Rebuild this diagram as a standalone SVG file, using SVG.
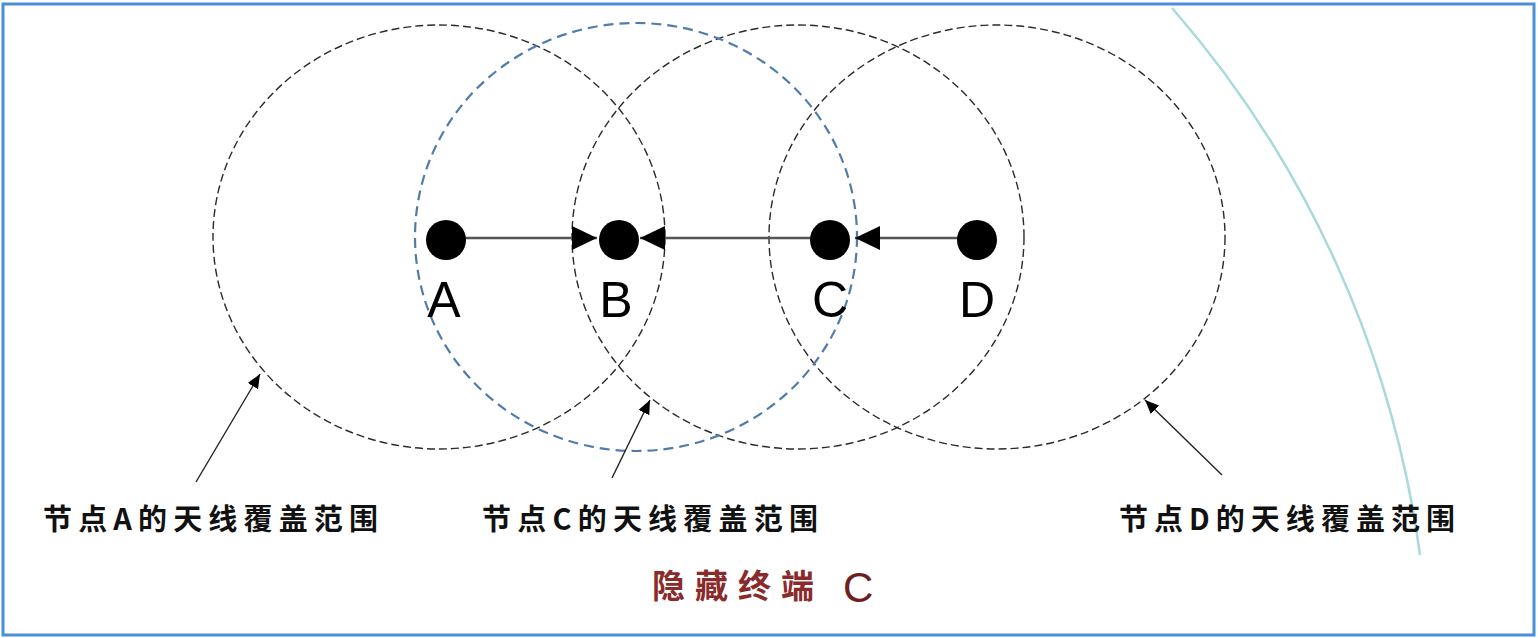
<svg xmlns="http://www.w3.org/2000/svg" width="1538" height="638" viewBox="0 0 1538 638">
<style>
.range{fill:none;stroke:#2a2a2a;stroke-width:1.4;stroke-dasharray:8 4}
.blue{fill:none;stroke:#4f7cad;stroke-width:2.2;stroke-dasharray:10 6}
.node{fill:#000}
.big{font-family:"Liberation Sans",Arial,sans-serif;font-size:50px;fill:#000;text-anchor:middle}
.lab{font-family:"Noto Sans CJK SC","Noto Sans",sans-serif;font-size:29px;fill:#111;font-weight:bold}
.title{font-family:"Noto Sans CJK SC","Noto Sans",sans-serif;font-size:33px;fill:#8a2b2b;font-weight:bold}
.link{stroke:#555;stroke-width:2.5;fill:none}
.ptr{stroke:#222;stroke-width:1.4;fill:none}
</style>
<defs>
<marker id="ah" markerWidth="25" markerHeight="24" refX="25" refY="12" orient="auto" markerUnits="userSpaceOnUse">
<path d="M0,0 L25,12 L0,24 Z" fill="#000"/>
</marker>
<marker id="sh" markerWidth="14" markerHeight="12" refX="14" refY="6" orient="auto" markerUnits="userSpaceOnUse">
<path d="M0,0 L14,6 L0,12 Z" fill="#000"/>
</marker>
</defs>
<rect x="3" y="4" width="1531" height="631" fill="#fff" stroke="#4a90d9" stroke-width="3"/>
<path d="M1172,8 A1045,1045 0 0 1 1420,555" fill="none" stroke="#a8dadc" stroke-width="2.5"/>
<g id="range-A"><ellipse class="range" cx="439" cy="237" rx="226" ry="212"/></g>
<g id="range-C"><ellipse class="range" cx="798" cy="237" rx="226" ry="212"/></g>
<g id="range-D"><ellipse class="range" cx="997" cy="237" rx="228" ry="212"/></g>
<g id="range-B"><ellipse class="blue" cx="636" cy="237" rx="221" ry="214"/></g>
<g id="connectors">
<line class="link" x1="446" y1="238" x2="597" y2="238" marker-end="url(#ah)"/>
<line class="link" x1="830" y1="238" x2="640" y2="238" marker-end="url(#ah)"/>
<line class="link" x1="977" y1="238" x2="855" y2="238" marker-end="url(#ah)"/>
<line class="ptr" x1="196" y1="482" x2="260" y2="374" marker-end="url(#sh)"/>
<line class="ptr" x1="612" y1="478" x2="650" y2="400" marker-end="url(#sh)"/>
<line class="ptr" x1="1222" y1="475" x2="1145" y2="400" marker-end="url(#sh)"/>
</g>
<g id="node-A"><circle class="node" cx="446" cy="240" r="20"/><text class="big" x="444" y="317">A</text></g>
<g id="node-B"><circle class="node" cx="619" cy="240" r="20"/><text class="big" x="616" y="317">B</text></g>
<g id="node-C"><circle class="node" cx="830" cy="240" r="20"/><text class="big" x="830" y="317">C</text></g>
<g id="node-D"><circle class="node" cx="977" cy="240" r="20"/><text class="big" x="977" y="317">D</text></g>
<g id="label-A"><text class="lab" x="43" y="530" textLength="335" lengthAdjust="spacing">节点A的天线覆盖范围</text></g>
<g id="label-C"><text class="lab" x="482" y="530" textLength="336" lengthAdjust="spacing">节点C的天线覆盖范围</text></g>
<g id="label-D"><text class="lab" x="1119" y="530" textLength="336" lengthAdjust="spacing">节点D的天线覆盖范围</text></g>
<g id="title"><text class="title" x="652 695 738 781" y="598">隐藏终端</text><text class="title" x="843" y="602" style="font-family:'Liberation Sans',Arial,sans-serif;font-weight:normal;font-size:42px;fill:#6e2020">C</text></g>
</svg>
